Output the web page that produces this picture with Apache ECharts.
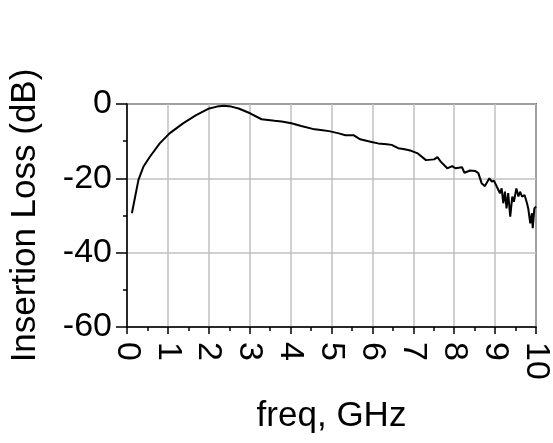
<!DOCTYPE html>
<html>
<head>
<meta charset="utf-8">
<script src="https://cdn.jsdelivr.net/npm/echarts@6/dist/echarts.min.js"></script>
<style>
html,body{margin:0;padding:0;background:#fff;}
#chart1{width:553px;height:443px;}
</style>
</head>
<body>
<div id="chart1"></div>
<script>
// freq (GHz) and insertion loss (dB)
var freqGHz=[0.12,0.2,0.28,0.4,0.56,0.8,1.04,1.37,1.69,2.01,
    2.2,2.37,2.55,2.73,3.01,3.29,3.45,3.61,3.78,4.02,
    4.26,4.54,4.74,4.94,5.18,5.34,5.54,5.70,5.98,6.14,
    6.35,6.47,6.63,6.79,6.95,7.11,7.31,7.51,7.59,7.67,
    7.83,7.95,8.03,8.19,8.25,8.39,8.51,8.59,8.67,8.75,
    8.81,8.86,8.92,8.97,9.04,9.12,9.16,9.20,9.24,9.28,
    9.32,9.37,9.42,9.46,9.52,9.57,9.61,9.66,9.72,9.78,
    9.81,9.86,9.90,9.92,9.96,10.0];
var lossDB=[-29.4,-24.9,-20.4,-16.9,-14.2,-10.6,-7.9,-5.2,-3.0,-1.2,
    -0.7,-0.45,-0.7,-1.2,-2.5,-4.1,-4.3,-4.5,-4.7,-5.2,
    -5.9,-6.7,-7.0,-7.3,-7.9,-8.4,-8.4,-9.5,-10.2,-10.6,
    -10.8,-11.0,-11.9,-12.2,-12.6,-13.3,-15.1,-14.9,-14.3,-15.5,
    -17.3,-16.7,-17.3,-17.0,-18.5,-17.9,-18.0,-18.6,-21.3,-22.1,
    -20.9,-20.0,-20.9,-20.6,-22.2,-24.0,-22.7,-26.7,-23.6,-28.1,
    -24.0,-30.3,-24.9,-26.3,-22.7,-24.9,-23.6,-24.9,-24.5,-26.7,
    -28.1,-32.1,-29.4,-33.4,-28.1,-27.6];
var xTicks=[0,1,2,3,4,5,6,7,8,9,10];
var yTicks=[0,-20,-40,-60];

var font="'Liberation Sans', Arial, sans-serif";
var lossData=freqGHz.map(function (f,i) {return [f,lossDB[i]]});

var lossChart=echarts.init(document.getElementById("chart1"));
var lossOption={
    animation:false,
    grid:{
        left:125,right:13,top:104,bottom:116,
        show:true,
        borderColor:"#000",
        borderWidth:1.5
    },
    xAxis:{
        type:"value",
        min:xTicks[0],
        max:xTicks[xTicks.length-1],
        interval:1,
        name:"freq, GHz",
        nameLocation:"middle",
        nameGap:72,
        nameTextStyle:{fontFamily:font,fontSize:35,color:"#000"},
        axisLine:{onZero:false,lineStyle:{color:"#000",width:1.5}},
        axisTick:{length:7,lineStyle:{color:"#000",width:1.5}},
        minorTick:{show:true,splitNumber:2,length:4,lineStyle:{color:"#000",width:1.5}},
        splitLine:{lineStyle:{color:"#c0c0c0",width:1.5}},
        axisLabel:{rotate:-90,margin:15,fontFamily:font,fontSize:34,color:"#000"}
    },
    yAxis:{
        type:"value",
        min:yTicks[yTicks.length-1],
        max:yTicks[0],
        interval:20,
        name:"Insertion Loss (dB)",
        nameLocation:"middle",
        nameRotate:90,
        nameGap:84,
        nameTextStyle:{fontFamily:font,fontSize:35,color:"#000"},
        axisLine:{onZero:false,lineStyle:{color:"#000",width:1.5}},
        axisTick:{length:11,lineStyle:{color:"#000",width:1.5}},
        minorTick:{show:true,splitNumber:2,length:4,lineStyle:{color:"#000",width:1.5}},
        splitLine:{lineStyle:{color:"#c0c0c0",width:1.5}},
        axisLabel:{margin:15,fontFamily:font,fontSize:34,color:"#000"}
    },
    series:[
        {name:"S21",
            type:"line",
            showSymbol:false,
            lineStyle:{color:"#000",width:2},
            data:lossData
        }
    ]
};
lossChart.setOption(lossOption);
</script>
</body>
</html>
